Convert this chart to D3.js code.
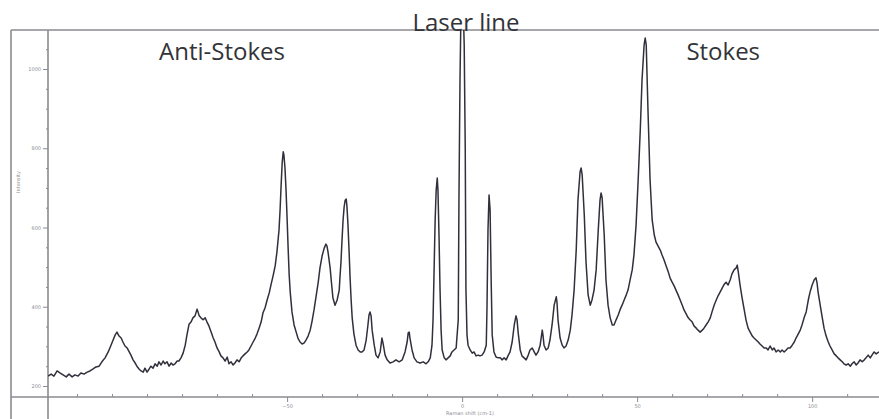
<!DOCTYPE html>
<html>
<head>
<meta charset="utf-8">
<script src="https://cdn.jsdelivr.net/npm/d3@7"></script>
<style>
  html, body { margin: 0; padding: 0; background: #ffffff; }
  svg { display: block; }
</style>
</head>
<body>
<svg id="chart" width="879" height="419"></svg>
<script>
// Raman spectrum: shift (cm-1) vs intensity (counts)
const shift = [
  -118.3,-117.4,-116.6,-115.7,-114.9,-114.0,-113.1,-112.3,-111.4,-110.6,-109.7,-108.9,-108.0,-107.1,-106.3,-105.4,-104.6,-103.7,-102.9,-102.0,
  -101.1,-100.3,-99.7,-99.1,-98.6,-98.0,-97.4,-96.9,-96.3,-95.7,-95.1,-94.6,-94.0,-93.4,-92.9,-92.3,-91.7,-91.1,-90.6,-90.0,
  -89.4,-88.9,-88.3,-87.7,-87.1,-86.6,-86.0,-85.4,-84.9,-84.3,-83.7,-83.1,-82.6,-82.0,-81.4,-80.9,-80.3,-79.7,-79.1,-78.6,
  -78.0,-77.4,-76.9,-76.3,-75.7,-75.1,-74.6,-74.0,-73.4,-72.9,-72.3,-71.7,-71.1,-70.6,-70.0,-69.4,-68.9,-68.3,-67.7,-67.1,
  -66.6,-66.0,-65.4,-64.9,-64.3,-63.7,-63.1,-62.6,-62.0,-61.4,-60.9,-60.3,-59.7,-59.1,-58.6,-58.0,-57.4,-56.9,-56.3,-55.7,
  -55.1,-54.6,-54.0,-53.4,-52.9,-52.3,-52.0,-51.7,-51.4,-51.1,-50.9,-50.6,-50.3,-50.0,-49.7,-49.4,-49.1,-48.6,-48.0,-47.4,
  -46.9,-46.3,-45.7,-45.1,-44.6,-44.0,-43.4,-42.9,-42.3,-41.7,-41.1,-40.6,-40.0,-39.4,-38.9,-38.6,-38.3,-37.7,-37.4,-36.9,
  -36.3,-35.7,-35.1,-34.9,-34.6,-34.3,-34.0,-33.7,-33.4,-33.1,-32.9,-32.6,-32.3,-32.0,-31.7,-31.4,-30.9,-30.3,-29.7,-29.1,
  -28.6,-28.0,-27.4,-26.9,-26.6,-26.3,-26.0,-25.7,-25.1,-24.6,-24.0,-23.4,-22.9,-22.6,-22.0,-21.4,-20.6,-19.7,-18.9,-18.0,
  -17.1,-16.3,-15.7,-15.4,-15.1,-14.9,-14.3,-13.7,-12.9,-12.0,-11.1,-10.3,-9.7,-9.1,-8.6,-8.3,-8.0,-7.7,-7.4,-7.1,
  -6.9,-6.6,-6.3,-6.0,-5.7,-5.1,-4.6,-4.0,-3.4,-2.9,-2.3,-1.7,-1.1,-0.9,-0.6,-0.3,0.0,0.3,0.6,0.9,
  1.1,1.4,1.7,2.3,2.9,3.4,4.0,4.6,5.1,5.7,6.3,6.9,7.1,7.4,7.7,8.0,8.3,8.6,9.1,9.7,
  10.3,10.9,11.4,12.0,12.6,13.1,13.7,14.3,14.9,15.4,15.7,16.0,16.6,17.1,17.7,18.3,18.9,19.4,20.0,20.6,
  21.1,21.7,22.3,22.9,23.1,23.4,24.0,24.6,25.1,25.7,26.3,26.9,27.1,27.4,28.0,28.6,29.1,29.7,30.3,30.9,
  31.4,32.0,32.6,33.1,33.7,34.0,34.3,34.9,35.4,36.0,36.6,37.1,37.7,38.3,38.9,39.4,39.7,40.0,40.6,41.1,
  41.7,42.3,42.9,43.4,44.0,44.6,45.1,45.7,46.3,46.9,47.4,48.0,48.6,49.1,49.7,50.3,50.9,51.4,52.0,52.3,
  52.6,53.1,53.7,54.3,54.9,55.4,56.0,56.6,57.1,57.7,58.3,58.9,59.4,60.0,60.6,61.1,61.7,62.3,62.9,63.4,
  64.0,64.6,65.1,65.7,66.3,66.9,67.4,68.0,68.6,69.1,69.7,70.3,70.9,71.4,72.0,72.6,73.1,73.7,74.3,74.9,
  75.4,76.0,76.6,77.1,77.7,78.3,78.6,78.9,79.4,80.0,80.6,81.1,81.7,82.3,82.9,83.4,84.0,84.6,85.1,85.7,
  86.3,86.9,87.4,88.0,88.6,89.1,89.7,90.3,90.9,91.4,92.0,92.6,93.1,93.7,94.3,94.9,95.4,96.0,96.6,97.1,
  97.7,98.3,98.9,99.4,100.0,100.6,101.1,101.4,101.7,102.3,102.9,103.4,104.0,104.6,105.1,105.7,106.3,106.9,107.4,108.0,
  108.6,109.1,109.7,110.3,110.9,111.4,112.0,112.6,113.1,113.7,114.3,114.9,115.4,116.0,116.6,117.1,117.7,118.3,119.1
];
const intensity = [
  225,230,225,238,233,228,223,230,223,228,225,233,230,235,238,243,248,250,261,271,
  286,303,316,329,336,326,321,311,301,296,286,278,266,258,250,243,238,235,245,235,
  243,250,245,256,250,261,253,263,256,261,250,258,253,256,263,263,271,283,303,329,
  356,362,372,377,394,377,372,367,372,362,351,336,321,311,296,286,276,271,263,273,
  256,261,253,258,266,261,271,276,281,286,291,301,311,321,331,346,362,384,397,417,
  435,455,478,503,538,594,644,707,763,791,783,750,695,624,548,480,437,387,354,336,
  321,311,306,309,316,326,341,362,392,427,462,498,528,548,558,553,538,498,468,422,
  404,417,442,473,513,569,619,652,669,672,654,606,543,473,417,372,331,303,291,286,
  286,291,316,354,379,387,377,341,303,278,271,286,321,309,278,266,258,261,266,261,
  266,286,311,334,336,321,291,271,261,258,261,256,261,271,303,367,493,619,695,725,
  695,581,442,341,291,271,266,271,276,286,291,296,367,669,972,1160,1160,1160,1061,796,
  442,329,303,291,283,286,276,278,276,278,286,303,392,594,682,644,468,329,286,273,
  271,271,266,271,266,276,286,311,354,377,367,336,291,276,271,266,278,291,296,286,
  278,286,303,341,329,303,291,296,316,354,404,425,412,367,321,303,296,301,316,341,
  379,442,543,669,740,750,733,632,513,430,404,417,442,493,594,669,687,675,581,468,
  404,372,354,354,367,379,392,404,417,430,442,468,493,531,606,720,846,972,1061,1078,
  1061,897,720,619,581,563,553,543,531,518,503,488,473,462,452,442,430,417,404,392,
  382,372,367,362,351,346,341,336,341,346,354,362,372,387,404,417,427,437,447,457,
  462,455,468,483,493,498,505,488,455,422,392,367,346,336,326,321,316,311,306,301,
  296,296,291,301,291,296,286,291,286,291,286,291,296,296,303,311,321,331,341,354,
  372,387,417,437,455,468,473,460,437,404,372,346,326,311,301,291,281,276,271,266,
  261,256,253,256,250,256,261,253,258,266,261,266,271,278,271,278,286,281,286
];
const yTicks = [200, 400, 600, 800, 1000];
const xTicks = [-50, 0, 50, 100];
const notes = [
  { text: "Anti-Stokes", at: -68.6, level: 1023 },
  { text: "Laser line", at: 1.1, level: 1096 },
  { text: "Stokes", at: 74.6, level: 1023 }
];

const svg = d3.select("#chart");
const W = 879, H = 419;
const frame = { left: 11, top: 30 };
const plot = { left: 48, right: 879, top: 30, bottom: 397 };

const x = d3.scaleLinear().domain([-118.3, 119.1]).range([plot.left, plot.right]);
const y = d3.scaleLinear().domain([200, 1000]).range([386, 69]);

const axisColor = "#8a8a90";
const labelColor = "#8c8c92";

// Frame and axis lines (the axes run past each other, as in the instrument printout)
const g = svg.append("g");
g.append("line").attr("x1", frame.left).attr("x2", W).attr("y1", frame.top).attr("y2", frame.top)
  .attr("stroke", axisColor).attr("stroke-width", 1.6);
g.append("line").attr("x1", frame.left).attr("x2", frame.left).attr("y1", frame.top).attr("y2", H)
  .attr("stroke", axisColor).attr("stroke-width", 1.6);
g.append("line").attr("x1", plot.left).attr("x2", plot.left).attr("y1", frame.top).attr("y2", H)
  .attr("stroke", axisColor).attr("stroke-width", 1.6);
g.append("line").attr("x1", frame.left).attr("x2", W).attr("y1", plot.bottom).attr("y2", plot.bottom)
  .attr("stroke", axisColor).attr("stroke-width", 1.6);

// Y axis: major labelled ticks and minor ticks
const yAxis = d3.axisLeft(y).tickValues(yTicks).tickSize(5).tickPadding(2).tickFormat(d3.format("d"));
const yg = svg.append("g").attr("transform", `translate(${plot.left},0)`).call(yAxis);
yg.select(".domain").remove();
yg.selectAll("line").attr("stroke", axisColor);
yg.selectAll("text").attr("fill", labelColor).style("font", "5px 'DejaVu Sans'");
const yMinor = d3.axisLeft(y).tickValues(d3.range(200, 1100, 50).filter(v => !yTicks.includes(v))).tickSize(2).tickFormat("");
const ymg = svg.append("g").attr("transform", `translate(${plot.left},0)`).call(yMinor);
ymg.select(".domain").remove();
ymg.selectAll("line").attr("stroke", axisColor);

// X axis
const xAxis = d3.axisBottom(x).tickValues(xTicks).tickSize(5).tickPadding(2).tickFormat(d3.format("d"));
const xg = svg.append("g").attr("transform", `translate(0,${plot.bottom})`).call(xAxis);
xg.select(".domain").remove();
xg.selectAll("line").attr("stroke", axisColor);
xg.selectAll("text").attr("fill", labelColor).style("font", "5px 'DejaVu Sans'");
const xMinor = d3.axisBottom(x).tickValues(d3.range(-110, 120, 10).filter(v => !xTicks.includes(v))).tickSize(-3).tickFormat("");
const xmg = svg.append("g").attr("transform", `translate(0,${plot.bottom})`).call(xMinor);
xmg.select(".domain").remove();
xmg.selectAll("line").attr("stroke", axisColor);

// Axis titles
svg.append("text").attr("x", 470).attr("y", 415).attr("text-anchor", "middle")
  .attr("fill", labelColor).style("font", "5px 'DejaVu Sans'").text("Raman shift (cm-1)");
svg.append("text").attr("transform", "translate(20,182) rotate(-90)").attr("text-anchor", "middle")
  .attr("fill", labelColor).style("font", "5px 'DejaVu Sans'").text("Intensity");

// Spectrum trace, clipped to the plotting frame
svg.append("clipPath").attr("id", "plotClip").append("rect")
  .attr("x", plot.left).attr("y", plot.top).attr("width", plot.right - plot.left).attr("height", plot.bottom - plot.top);
const pts = shift.map((s, i) => [s, intensity[i]]);
const line = d3.line().x(d => x(d[0])).y(d => y(d[1]));
svg.append("path").datum(pts).attr("clip-path", "url(#plotClip)")
  .attr("d", line).attr("fill", "none").attr("stroke", "#30303c").attr("stroke-width", 1.5)
  .attr("stroke-linejoin", "round");

// Region annotations
svg.selectAll("text.note").data(notes).join("text").attr("class", "note")
  .attr("x", d => x(d.at)).attr("y", d => y(d.level)).attr("text-anchor", "middle")
  .attr("fill", "#333338").style("font", "24px 'Open Sans'").text(d => d.text);
</script>
</body>
</html>
